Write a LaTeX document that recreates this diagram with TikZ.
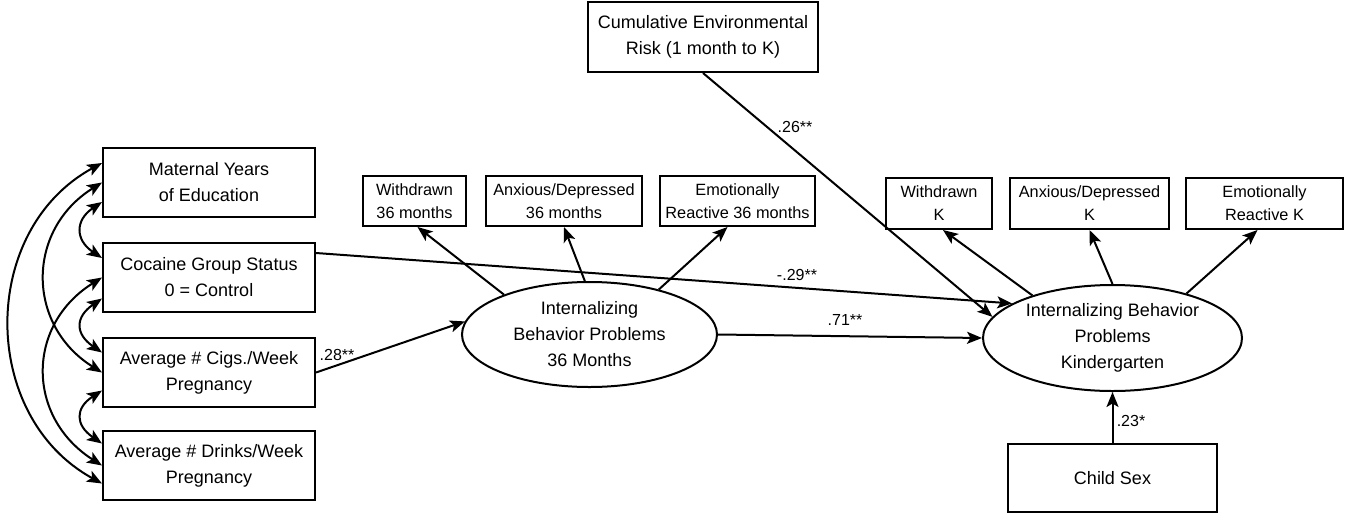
\documentclass[tikz,border=0pt]{standalone}
\usepackage{fontspec}
\setmainfont{Liberation Sans}
\usetikzlibrary{shapes.geometric,arrows.meta,calc}
\tikzset{
  big/.style={font=\fontsize{18}{26}\selectfont},
  small/.style={font=\fontsize{16.3}{23}\selectfont},
  lab/.style={font=\fontsize{16}{18}\selectfont, inner sep=0pt},
  box/.style={draw, line width=2pt, rectangle, align=center, inner sep=0pt},
  lat/.style={draw, line width=2pt, ellipse, align=center, inner sep=0pt, big},
  arr/.style={line width=2pt, -{Stealth[length=15pt,width=12pt,inset=3.5pt]}},
  cor/.style={line width=2pt, {Stealth[length=15pt,width=12pt,inset=3.5pt]}-{Stealth[length=15pt,width=12pt,inset=3.5pt]}},
}
\begin{document}
\begin{tikzpicture}[x=1pt,y=-1pt]
\useasboundingbox (0,0) rectangle (1346,517);
% exogenous boxes
\node[box,big,minimum width=212pt,minimum height=69pt] (mat) at (209,182.5) {Maternal Years\\of Education};
\node[box,big,minimum width=212pt,minimum height=69pt] (coc) at (209,277.5) {Cocaine Group Status\\0 = Control};
\node[box,big,minimum width=212pt,minimum height=69pt] (cig) at (209,372.5) {Average \# Cigs./Week\\Pregnancy};
\node[box,big,minimum width=212pt,minimum height=69pt] (drk) at (209,465.5) {Average \# Drinks/Week\\Pregnancy};
\node[box,big,minimum width=230pt,minimum height=70pt] (cum) at (703,37) {Cumulative Environmental\\Risk (1 month to K)};
\node[box,big,minimum width=209pt,minimum height=68pt] (cs) at (1112.5,478) {Child Sex};
% indicators
\node[box,small,minimum width=103pt,minimum height=50pt] (w36) at (414.5,201) {Withdrawn\\36 months};
\node[box,small,minimum width=156pt,minimum height=50pt] (a36) at (564,201) {Anxious/Depressed\\36 months};
\node[box,small,minimum width=155pt,minimum height=50pt] (r36) at (737.5,201) {Emotionally\\Reactive 36 months};
\node[box,small,minimum width=106pt,minimum height=51pt] (wK) at (939,203.5) {Withdrawn\\K};
\node[box,small,minimum width=159pt,minimum height=51pt] (aK) at (1089.5,203.5) {Anxious/Depressed\\K};
\node[box,small,minimum width=157pt,minimum height=51pt] (rK) at (1264.5,203.5) {Emotionally\\Reactive K};
% latent
\node[lat,minimum width=255pt,minimum height=105pt] (e36) at (589.5,334.5) {Internalizing\\Behavior Problems\\36 Months};
\node[lat,minimum width=259pt,minimum height=106pt] (eK) at (1112.5,338) {Internalizing Behavior\\Problems\\Kindergarten};
% measurement arrows
\draw[arr] (e36.155) -- ([xshift=3pt]w36.south);
\draw[arr] (e36.95) -- (a36.south);
\draw[arr] (e36.33) -- ([xshift=-10pt]r36.south);
\draw[arr] (eK.152) -- ([xshift=4pt]wK.south);
\draw[arr] (eK.90) -- (aK.south);
\draw[arr] (eK.31) -- ([xshift=-7pt]rK.south);
% structural paths
\draw[arr] ([yshift=24.5pt]coc.east) -- (eK.161.5);
\draw[arr] (cum.south) -- (eK.170.5);
\draw[arr] (cig.east) -- (e36.174);
\draw[arr] (e36.east) -- (eK.west);
\draw[arr] (cs.north) -- (eK.south);
% labels
\node[lab] (l26) at (795,127) {.26**};
\node[lab] (l29) at (797,275) {-.29**};
\node[lab] (l71) at (845,320) {.71**};
\node[lab] (l28) at (337,355) {.28**};
\node[lab] (l23) at (1131,421) {.23*};
% correlations
\coordinate (m1) at ([yshift=19.5pt]mat.west);
\coordinate (m2) at (mat.west);
\coordinate (m3) at ([yshift=-19.5pt]mat.west);
\coordinate (c1) at ([yshift=19.5pt]coc.west);
\coordinate (c2) at (coc.west);
\coordinate (c3) at ([yshift=-21pt]coc.west);
\coordinate (g1) at ([yshift=20pt]cig.west);
\coordinate (g2) at (cig.west);
\coordinate (g3) at ([yshift=-18pt]cig.west);
\coordinate (d1) at ([yshift=22pt]drk.west);
\coordinate (d2) at (drk.west);
\coordinate (d3) at ([yshift=-18pt]drk.west);
\draw[cor] (m1) .. controls (-21,230) and (-21,416) .. (d3);
\draw[cor] (m2) .. controls (26,230) and (26,325) .. (g2);
\draw[cor] (c2) .. controls (26,325) and (26,417) .. (d2);
\draw[cor] (m3) .. controls (75,220) and (75,240) .. (c1);
\draw[cor] (c3) .. controls (75,317) and (75,334) .. (g1);
\draw[cor] (g3) .. controls (75,408) and (75,425) .. (d1);
\end{tikzpicture}
\end{document}
